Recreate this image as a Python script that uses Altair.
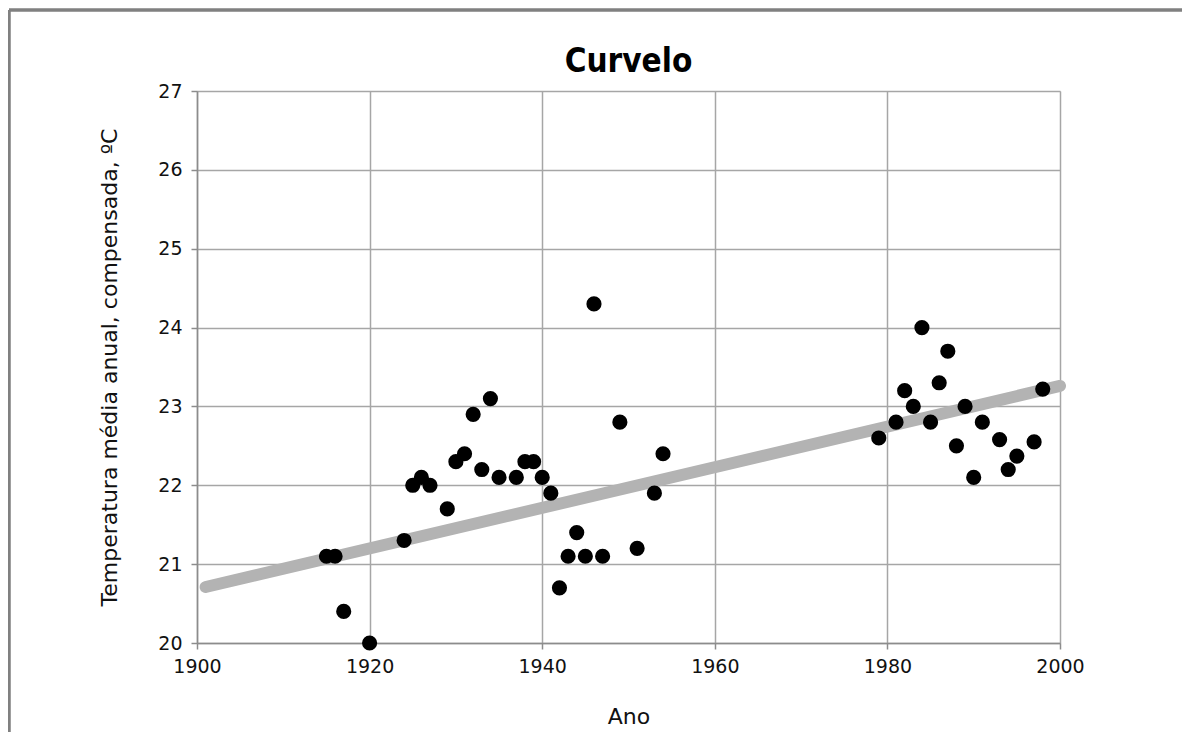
import altair as alt
import pandas as pd

years = [1915, 1916, 1917, 1920, 1924, 1925, 1926, 1927, 1929, 1930, 1931, 1932, 1933, 1934,
         1935, 1937, 1938, 1939, 1940, 1941, 1942, 1943, 1944, 1945, 1946, 1947, 1949, 1951,
         1953, 1954, 1979, 1981, 1982, 1983, 1984, 1985, 1986, 1987, 1988, 1989, 1990, 1991,
         1993, 1994, 1995, 1997, 1998]
temps = [21.1, 21.1, 20.4, 20.0, 21.3, 22.0, 22.1, 22.0, 21.7, 22.3, 22.4, 22.9, 22.2, 23.1,
         22.1, 22.1, 22.3, 22.3, 22.1, 21.9, 20.7, 21.1, 21.4, 21.1, 24.3, 21.1, 22.8, 21.2,
         21.9, 22.4, 22.6, 22.8, 23.2, 23.0, 24.0, 22.8, 23.3, 23.7, 22.5, 23.0, 22.1, 22.8,
         22.58, 22.2, 22.37, 22.55, 23.22]
trend_years = [1901, 2000]
trend_temps = [20.71, 23.26]

FONT = "DejaVu Sans Condensed, Liberation Sans, sans-serif"
WIDE = "DejaVu Sans, Liberation Sans, sans-serif"

pts = pd.DataFrame({"Ano": years, "Temp": temps})
trend = pd.DataFrame({"Ano": trend_years, "Temp": trend_temps})

xscale = alt.Scale(domain=[1900, 2000], nice=False)
yscale = alt.Scale(domain=[20, 27], nice=False, zero=False)

xaxis = alt.Axis(values=[1900, 1920, 1940, 1960, 1980, 2000], format="d", title="Ano",
                 grid=True, gridColor="#a6a6a6", gridWidth=1.5, labelFlush=False,
                 domainColor="#8c8c8c", domainWidth=1.5, tickColor="#8c8c8c", tickSize=6,
                 tickWidth=1.5, labelFont=WIDE, labelFontSize=19, labelColor="#111111",
                 labelPadding=8, titleFont=WIDE, titleFontSize=22, titleFontWeight="normal",
                 titleColor="#111111", titlePadding=30)
yaxis = alt.Axis(values=[20, 21, 22, 23, 24, 25, 26, 27], format="d", labelFlush=False,
                 title="Temperatura média anual, compensada, ºC",
                 grid=True, gridColor="#a6a6a6", gridWidth=1.5,
                 domainColor="#8c8c8c", domainWidth=1.5, tickColor="#8c8c8c", tickSize=6,
                 tickWidth=1.5, labelFont=WIDE, labelFontSize=19, labelColor="#111111",
                 labelPadding=9, titleFont=WIDE, titleFontSize=22, titleFontWeight="normal",
                 titleColor="#111111", titlePadding=36)

line = alt.Chart(trend).mark_line(color="#b3b3b3", strokeWidth=12, strokeCap="round").encode(
    x=alt.X("Ano:Q", scale=xscale, axis=xaxis),
    y=alt.Y("Temp:Q", scale=yscale, axis=yaxis),
)
dots = alt.Chart(pts).mark_point(filled=True, shape="circle", size=230, color="#000000",
                                 opacity=1).encode(
    x=alt.X("Ano:Q", scale=xscale),
    y=alt.Y("Temp:Q", scale=yscale),
)

border_top = alt.Chart(trend).mark_rule(color="#808080", strokeWidth=3, clip=False).encode(
    x=alt.value(-188), x2=alt.value(1000), y=alt.value(-81)
)
border_left = alt.Chart(trend).mark_rule(color="#808080", strokeWidth=3, clip=False).encode(
    x=alt.value(-188), y=alt.value(-81), y2=alt.value(700)
)

chart = alt.layer(border_top, border_left, line, dots).properties(
    width=863, height=552,
    title=alt.TitleParams("Curvelo", font=FONT, fontSize=33, fontWeight="bold",
                          color="#000000", anchor="middle", offset=-70),
    autosize=alt.AutoSizeParams(type="none"),
    padding={"left": 189, "top": 83, "right": 122, "bottom": 89},
).configure_view(stroke="#a6a6a6", strokeWidth=1.5).configure(background="#ffffff")

chart.save("out.html", embed_options={"renderer": "svg", "actions": False})
